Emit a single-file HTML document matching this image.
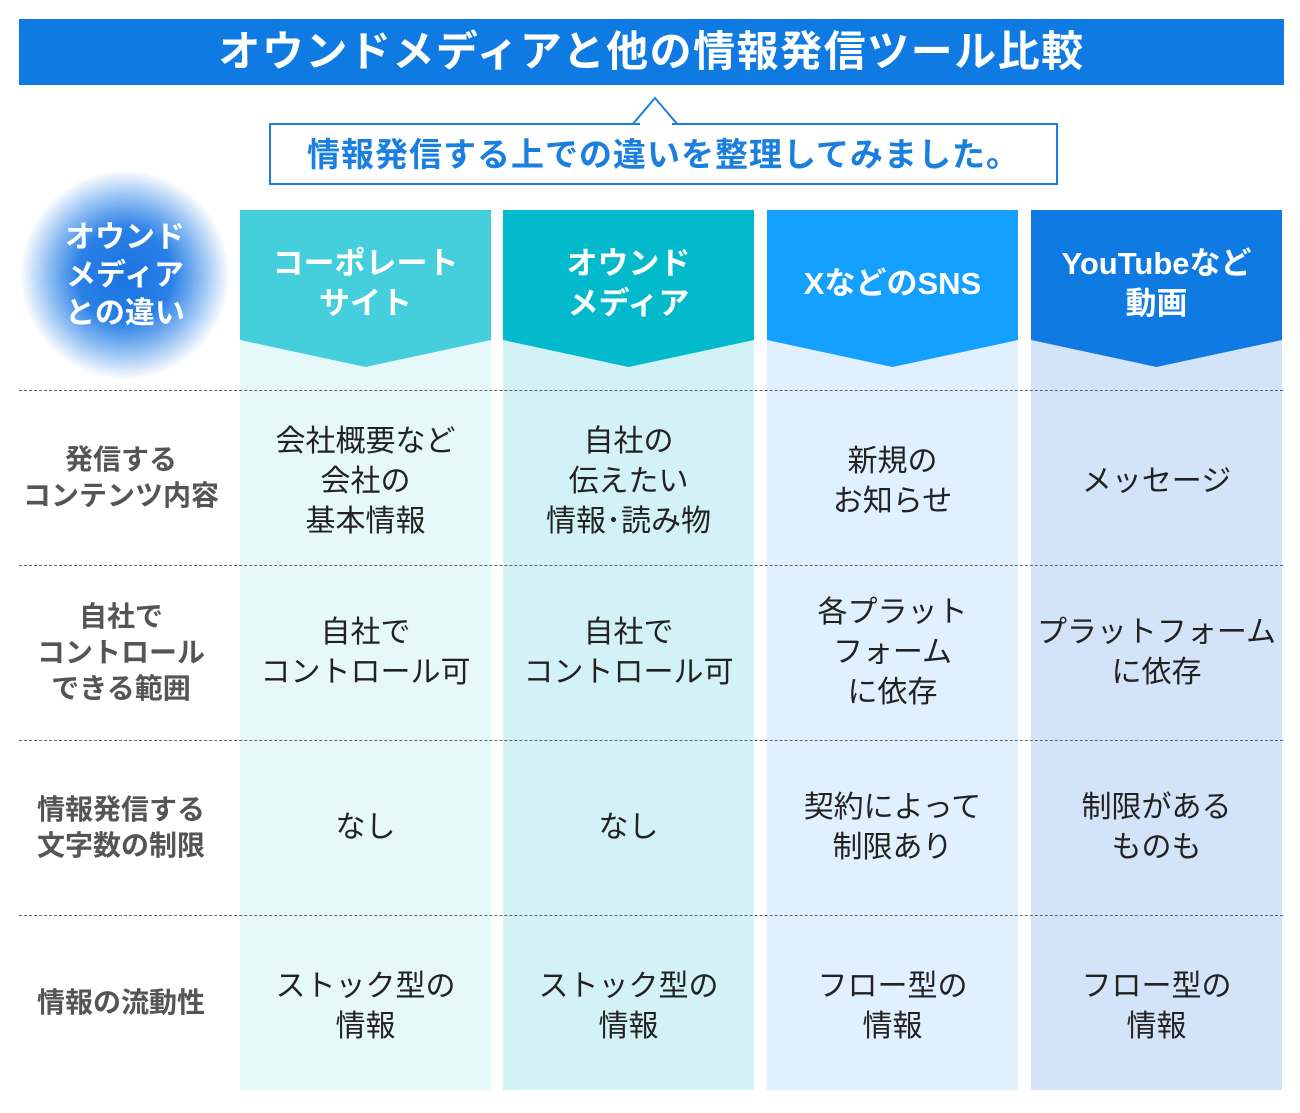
<!DOCTYPE html>
<html><head><meta charset="utf-8"><style>
body{margin:0;width:1300px;height:1113px;background:#fff;position:relative;overflow:hidden;font-family:"Liberation Sans","Noto Sans CJK JP",sans-serif}
.a{position:absolute}
.title{left:19px;top:19px;width:1265px;height:66px;background:#0f7be2;color:#fff;font-weight:bold;font-size:42px;text-align:center;line-height:66px;letter-spacing:1.5px}
.call{left:269px;top:123px;width:785px;height:58px;border:2px solid #1a7fe0;color:#1a7fe0;font-weight:bold;font-size:33px;text-align:center;line-height:60px;background:#fff;letter-spacing:1px}
.col{top:210px;width:251px;height:880px}
.hd{position:absolute;left:0;top:0;width:251px;height:157px;clip-path:polygon(0 0,100% 0,100% 130px,50% 157px,0 130px)}
.ht{position:absolute;left:0;top:4px;width:251px;height:140px;display:flex;align-items:center;justify-content:center;text-align:center;color:#fff;font-weight:bold;font-size:31px;line-height:40px}
.dot{left:19px;width:1264px;height:0;border-top:1.5px dashed #666}
.cell{width:251px;height:174px;display:flex;align-items:center;justify-content:center;text-align:center;font-size:30px;line-height:40px;color:#222}
.lab{left:10px;width:222px;height:174px;display:flex;align-items:center;justify-content:center;text-align:center;font-size:28px;line-height:36px;color:#555;font-weight:bold}
</style></head><body>
<div class="a title">オウンドメディアと他の情報発信ツール比較</div>
<svg class="a" style="left:630px;top:96px" width="52" height="30"><polygon points="2,29 25,2 48,29" fill="#fff" stroke="#1a7fe0" stroke-width="2"/></svg>
<div class="a call">情報発信する上での違いを整理してみました。</div>
<svg class="a" style="left:640px;top:121px" width="32" height="6"><rect x="0" y="0" width="32" height="4" fill="#fff"/></svg>
<div class="a" style="left:20px;top:170px;width:210px;height:210px;border-radius:50%;background:radial-gradient(ellipse 50% 50% at 50% 50%,#1a73e0 0%,#2a80e6 45%,#8cbcf2 72%,#fff 100%)"></div>
<div class="a" style="left:20px;top:219px;width:210px;text-align:center;color:#fff;font-weight:bold;font-size:30px;line-height:38px">オウンド<br>メディア<br>との違い</div>

<div class="a col" style="left:240px;background:#e6f8fa"><div class="hd" style="background:#45cedc"></div><div class="ht">コーポレート<br>サイト</div></div>
<div class="a col" style="left:503px;background:#d3f2f6"><div class="hd" style="background:#02bacc"></div><div class="ht">オウンド<br>メディア</div></div>
<div class="a col" style="left:767px;background:#e0f0fe"><div class="hd" style="background:#14a0ff"></div><div class="ht">XなどのSNS</div></div>
<div class="a col" style="left:1031px;background:#d3e4f8"><div class="hd" style="background:#0f7be2"></div><div class="ht">YouTubeなど<br>動画</div></div>

<div class="a dot" style="top:390px"></div>
<div class="a dot" style="top:565px"></div>
<div class="a dot" style="top:740px"></div>
<div class="a dot" style="top:915px"></div>

<div class="a lab" style="top:391px">発信する<br>コンテンツ内容</div>
<div class="a lab" style="top:566px">自社で<br>コントロール<br>できる範囲</div>
<div class="a lab" style="top:741px">情報発信する<br>文字数の制限</div>
<div class="a lab" style="top:916px">情報の流動性</div>

<div class="a cell" style="left:240px;top:395px">会社概要など<br>会社の<br>基本情報</div>
<div class="a cell" style="left:503px;top:395px">自社の<br>伝えたい<br>情報･読み物</div>
<div class="a cell" style="left:767px;top:395px">新規の<br>お知らせ</div>
<div class="a cell" style="left:1031px;top:395px">メッセージ</div>

<div class="a cell" style="left:240px;top:566px">自社で<br>コントロール可</div>
<div class="a cell" style="left:503px;top:566px">自社で<br>コントロール可</div>
<div class="a cell" style="left:767px;top:566px">各プラット<br>フォーム<br>に依存</div>
<div class="a cell" style="left:1031px;top:566px">プラットフォーム<br>に依存</div>

<div class="a cell" style="left:240px;top:741px">なし</div>
<div class="a cell" style="left:503px;top:741px">なし</div>
<div class="a cell" style="left:767px;top:741px">契約によって<br>制限あり</div>
<div class="a cell" style="left:1031px;top:741px">制限がある<br>ものも</div>

<div class="a cell" style="left:240px;top:920px">ストック型の<br>情報</div>
<div class="a cell" style="left:503px;top:920px">ストック型の<br>情報</div>
<div class="a cell" style="left:767px;top:920px">フロー型の<br>情報</div>
<div class="a cell" style="left:1031px;top:920px">フロー型の<br>情報</div>
</body></html>
